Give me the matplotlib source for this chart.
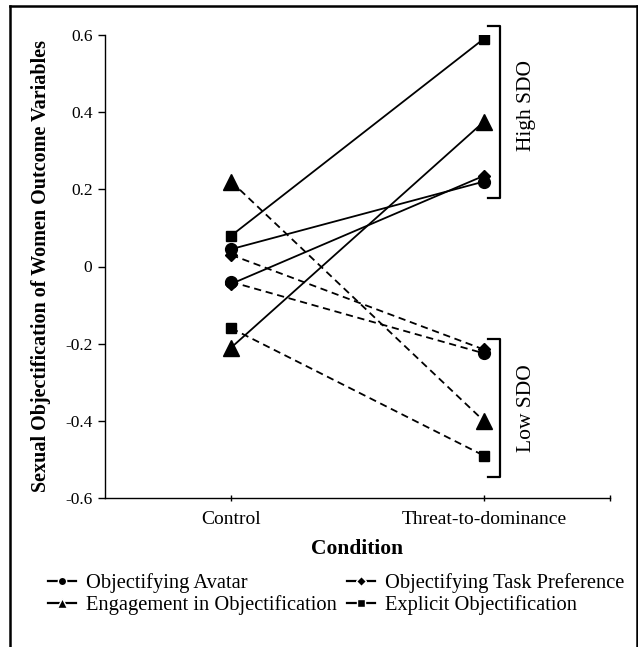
import matplotlib
matplotlib.use("Agg")
import matplotlib.pyplot as plt
from matplotlib.lines import Line2D

plt.rcParams['font.family'] = ['Liberation Serif', 'DejaVu Serif']

# chart values
conditions = ['Control', 'Threat-to-dominance']
y_ticks = [-0.6, -0.4, -0.2, 0, 0.2, 0.4, 0.6]
y_tick_labels = ['-0.6', '-0.4', '-0.2', '0', '0.2', '0.4', '0.6']

# high SDO (solid lines)
high_avatar = [0.045, 0.22]
high_task = [-0.045, 0.235]
high_engage = [-0.21, 0.375]
high_explicit = [0.08, 0.59]

# low SDO (dashed lines)
low_avatar = [-0.04, -0.225]
low_task = [0.03, -0.215]
low_engage = [0.22, -0.40]
low_explicit = [-0.16, -0.49]

series_names = ['Objectifying Avatar', 'Engagement in Objectification',
                'Objectifying Task Preference', 'Explicit Objectification']

W, H = 638, 647
fig = plt.figure(figsize=(W / 100, H / 100), dpi=100)
ax = fig.add_axes([105 / W, (H - 498) / H, 505 / W, (498 - 35) / H])

x = [0, 1]
dash = (0, (4, 2.6))
lw = 1.3

# marker styles
styles = {
    'avatar': dict(marker='o', ms=8.5),
    'engage': dict(marker='^', ms=11),
    'task': dict(marker='D', ms=6.5),
    'explicit': dict(marker='s', ms=6.5),
}

lines_high = [('avatar', high_avatar), ('engage', high_engage),
              ('task', high_task), ('explicit', high_explicit)]
lines_low = [('avatar', low_avatar), ('engage', low_engage),
             ('task', low_task), ('explicit', low_explicit)]

for key, vals in lines_low:
    ax.plot(x, vals, color='black', lw=lw, linestyle=dash, mec='black',
            mfc='black', **styles[key])
for key, vals in lines_high:
    ax.plot(x, vals, color='black', lw=lw, linestyle='-', mec='black',
            mfc='black', **styles[key])

ax.set_xlim(-0.5, 1.5)
ax.set_ylim(-0.6, 0.6)
ax.set_xticks([0, 1, 1.5])
ax.set_xticklabels(conditions + [''], fontsize=14)
ax.set_yticks(y_ticks)
ax.set_yticklabels(y_tick_labels, fontsize=12.5)
ax.tick_params(axis='x', direction='inout', length=5, width=1, pad=7)
ax.tick_params(axis='y', direction='out', length=5, width=1, pad=4)

for side in ['top', 'right']:
    ax.spines[side].set_visible(False)
for side in ['left', 'bottom']:
    ax.spines[side].set_linewidth(1.0)

ax.set_xlabel('Condition', fontsize=15.5, fontweight='bold', labelpad=8)
ax.set_ylabel('Sexual Objectification of Women Outcome Variables',
              fontsize=14.5, fontweight='bold', labelpad=10)

# SDO brackets
bx, bt = 1.064, 1.017
ax.plot([bt, bx, bx, bt], [0.623, 0.623, 0.177, 0.177], color='black',
        lw=1.6, clip_on=False, solid_joinstyle='round')
ax.plot([bt, bx, bx, bt], [-0.188, -0.188, -0.545, -0.545], color='black',
        lw=1.6, clip_on=False, solid_joinstyle='round')
ax.text(1.171, 0.418, 'High SDO', rotation=90, ha='center', va='center',
        fontsize=15.5)
ax.text(1.171, -0.366, 'Low SDO', rotation=90, ha='center', va='center',
        fontsize=15.5)

# legend
leg_keys = ['avatar', 'engage', 'task', 'explicit']
leg_ms = {'avatar': 6, 'engage': 7, 'task': 5, 'explicit': 5.5}
handles = []
for key in leg_keys:
    handles.append(Line2D([0], [0], color='black', lw=1.6,
                          marker=styles[key]['marker'], ms=leg_ms[key],
                          mfc='black', mec='white', mew=1.0))
fig.legend(handles, series_names, ncol=2, frameon=False,
           loc='upper left', bbox_to_anchor=(48 / W, (H - 573) / H),
           fontsize=14.8, handlelength=1.35, handletextpad=0.5,
           columnspacing=0.5, labelspacing=0.12, borderpad=0,
           borderaxespad=0)

# frame lines around the figure (left, top, right)
fig.add_artist(Line2D([10 / W, 10 / W], [0, (H - 6) / H], color='black',
                      lw=1.8, transform=fig.transFigure))
fig.add_artist(Line2D([10 / W, (W - 1.5) / W], [(H - 6) / H, (H - 6) / H],
                      color='black', lw=1.8, transform=fig.transFigure))
fig.add_artist(Line2D([(W - 1.5) / W, (W - 1.5) / W], [0, (H - 6) / H],
                      color='black', lw=1.8, transform=fig.transFigure))

fig.savefig('out.png', dpi=100)
